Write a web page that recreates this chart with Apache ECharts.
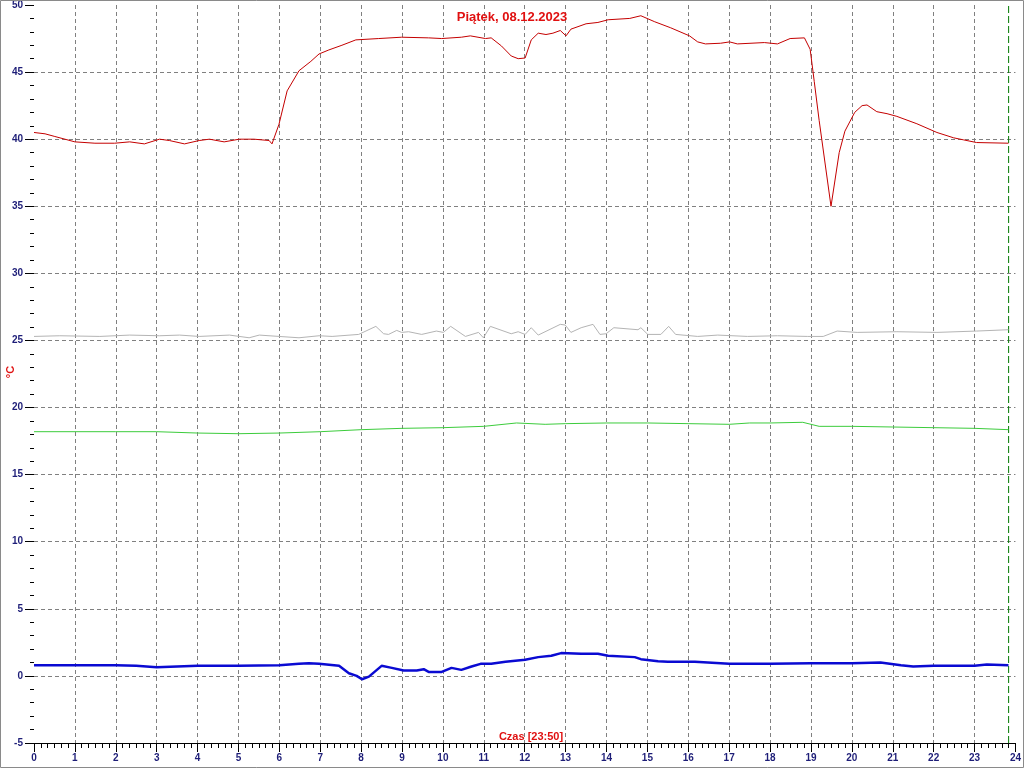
<!DOCTYPE html>
<html>
<head>
<meta charset="utf-8">
<script src="https://cdn.jsdelivr.net/npm/echarts@6/dist/echarts.min.js"></script>
<style>
html,body{margin:0;padding:0;background:#fff;}
#c{width:1024px;height:768px;}
</style>
</head>
<body>
<div id="c"></div>
<script>
// ---- data (hours, °C) ----
const titleText = 'Piątek, 08.12.2023';
const xName = 'Czas [23:50]';
const yName = '°C';
const endHour = 23 + 50 / 60;

const redTime = [0,0.27,0.51,1.0,1.49,1.97,2.34,2.7,3.07,3.31,3.68,4.04,4.29,4.65,5.02,5.38,5.75,5.82,5.99,6.19,6.48,6.77,6.97,7.21,7.53,7.87,8.43,8.99,9.65,9.97,10.45,10.67,11.04,11.18,11.43,11.67,11.84,12.01,12.16,12.33,12.52,12.69,12.87,13.01,13.13,13.5,13.79,14.04,14.57,14.84,15.18,15.57,16.03,16.23,16.42,16.79,17.01,17.2,17.86,18.18,18.49,18.84,18.98,19.08,19.2,19.49,19.69,19.83,20.07,20.25,20.37,20.61,20.86,21.1,21.59,22.08,22.49,22.73,23.05,23.83];
const redTemp = [40.5,40.4,40.2,39.8,39.7,39.7,39.8,39.65,40.0,39.9,39.65,39.9,40.0,39.8,40.0,40.0,39.9,39.65,41.1,43.6,45.1,45.8,46.35,46.65,47.0,47.4,47.5,47.6,47.55,47.5,47.6,47.7,47.5,47.55,46.95,46.2,46.0,46.05,47.4,47.9,47.8,47.9,48.1,47.7,48.2,48.6,48.7,48.9,49.0,49.2,48.75,48.3,47.7,47.25,47.1,47.15,47.25,47.1,47.2,47.1,47.5,47.55,46.7,44.3,41.4,35.0,39.0,40.6,42.0,42.5,42.55,42.05,41.9,41.7,41.15,40.5,40.1,39.95,39.75,39.7];

const grayTime = [0,0.63,1.61,2.34,3.07,3.56,4.04,4.78,5.26,5.51,5.99,6.48,6.97,7.29,7.94,8.36,8.55,8.67,8.87,8.99,9.16,9.48,9.84,10.01,10.19,10.55,10.87,10.99,11.16,11.67,11.84,12.01,12.16,12.33,12.87,12.99,13.13,13.38,13.67,13.84,13.99,14.18,14.77,14.84,15.01,15.33,15.52,15.69,16.23,16.72,17.45,18.18,18.91,19.3,19.64,20.13,21.1,22.08,23.05,23.83];
const grayTemp = [25.3,25.35,25.3,25.4,25.35,25.4,25.3,25.4,25.2,25.4,25.3,25.2,25.35,25.3,25.45,26.05,25.5,25.45,25.75,25.6,25.65,25.45,25.7,25.6,26.05,25.3,25.6,25.2,26.05,25.5,25.65,25.45,25.95,25.4,26.2,26.15,25.6,25.95,26.2,25.45,25.5,25.95,25.8,25.95,25.45,25.45,26.05,25.45,25.3,25.4,25.3,25.35,25.3,25.3,25.7,25.6,25.65,25.6,25.7,25.8];

const greenTime = [0,2.0,3.0,4.0,5.0,6.0,7.0,8.0,9.0,10.0,11.0,11.8,12.5,13.0,14.0,15.0,16.0,17.0,17.5,18.0,18.8,19.2,20.0,21.0,22.0,23.0,23.83];
const greenTemp = [18.2,18.2,18.2,18.1,18.05,18.1,18.2,18.35,18.45,18.5,18.6,18.85,18.75,18.8,18.85,18.85,18.8,18.75,18.85,18.85,18.9,18.6,18.6,18.55,18.5,18.45,18.35];

const blueTime = [0,1.0,2.0,2.5,3.0,3.5,4.0,5.0,6.0,6.48,6.72,6.97,7.46,7.7,7.89,8.02,8.19,8.5,8.75,9.04,9.36,9.53,9.65,9.97,10.21,10.45,10.7,10.92,11.18,11.53,12.01,12.33,12.65,12.89,13.38,13.79,14.04,14.69,14.84,15.26,15.5,16.16,17.0,18.0,19.0,20.0,20.7,21.2,21.5,22.0,23.0,23.3,23.83];
const blueTemp = [0.8,0.8,0.8,0.75,0.65,0.7,0.75,0.75,0.8,0.9,0.95,0.9,0.75,0.2,0.0,-0.25,-0.05,0.75,0.6,0.4,0.4,0.5,0.3,0.3,0.6,0.45,0.7,0.9,0.9,1.05,1.2,1.4,1.5,1.7,1.65,1.65,1.5,1.4,1.25,1.1,1.05,1.05,0.9,0.9,0.95,0.95,1.0,0.8,0.7,0.75,0.75,0.85,0.8];

const yMin = -5, yMax = 50;
const pair = (t, v) => t.map((x, i) => [x, v[i]]);

const chart = echarts.init(document.getElementById('c'), null, {renderer: 'canvas'});
const labelStyle = {color: '#1e1e78', fontFamily: 'Liberation Sans, Arial, sans-serif', fontWeight: 'bold', fontSize: 10};
const gridLine = {show: true, showMinLine: false, showMaxLine: false, lineStyle: {color: '#808080', type: [4, 3], width: 1}};

chart.setOption({
  animation: false,
  backgroundColor: '#ffffff',
  grid: {left: 34, right: 5, top: 4, bottom: 25, containLabel: false},
  xAxis: {
    type: 'value', min: 0, max: 24, interval: 1,
    axisLine: {show: true, onZero: false, lineStyle: {color: '#000', width: 1}},
    axisTick: {show: true, length: 9, lineStyle: {color: '#000'}},
    minorTick: {show: true, splitNumber: 6, length: 5, lineStyle: {color: '#000'}},
    axisLabel: Object.assign({margin: 10}, labelStyle),
    splitLine: gridLine
  },
  yAxis: {
    type: 'value', min: yMin, max: yMax, interval: 5,
    axisLine: {show: false},
    axisTick: {show: true, length: 9, lineStyle: {color: '#000'}},
    minorTick: {show: true, splitNumber: 5, length: 4, lineStyle: {color: '#000'}},
    axisLabel: Object.assign({margin: 11}, labelStyle),
    splitLine: gridLine
  },
  graphic: [
    {type: 'rect', shape: {x: 0.5, y: 0.5, width: 1023, height: 767}, style: {fill: 'none', stroke: '#8a8a8a', lineWidth: 1}, silent: true, z: 100},
    {type: 'text', x: 512, y: 11, style: {text: titleText, fill: '#e01010', font: 'bold 13px "Liberation Sans", Arial, sans-serif', textAlign: 'center', textVerticalAlign: 'top'}, z: 50},
    {type: 'text', x: 531, y: 737, style: {text: xName, fill: '#e01010', font: 'bold 11px "Liberation Sans", Arial, sans-serif', textAlign: 'center', textVerticalAlign: 'middle'}, z: 50},
    {type: 'text', x: 11, y: 372, rotation: Math.PI / 2, style: {text: yName, fill: '#e01010', font: 'bold 11px "Liberation Sans", Arial, sans-serif', textAlign: 'center', textVerticalAlign: 'middle'}, z: 50}
  ],
  series: [
    {type: 'line', data: pair(grayTime, grayTemp), showSymbol: false, symbol: 'none', lineStyle: {color: '#b4b4b4', width: 1}},
    {type: 'line', data: pair(greenTime, greenTemp), showSymbol: false, symbol: 'none', lineStyle: {color: '#3ccc3c', width: 1}},
    {type: 'line', data: pair(blueTime, blueTemp), showSymbol: false, symbol: 'none', lineStyle: {color: '#0a0ad2', width: 2.5}},
    {type: 'line', data: [[endHour, yMin], [endHour, yMax]], showSymbol: false, symbol: 'none', silent: true, z: 1, lineStyle: {color: '#007a00', type: [7, 3], width: 1}},
    {type: 'line', data: pair(redTime, redTemp), showSymbol: false, symbol: 'none', lineStyle: {color: '#c40000', width: 1}}
  ]
});
</script>
</body>
</html>
